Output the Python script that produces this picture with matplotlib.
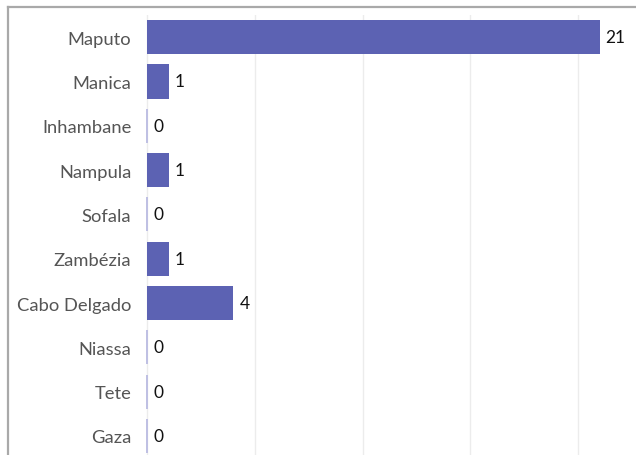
import matplotlib.pyplot as plt
from matplotlib.lines import Line2D

# -----------------------------
# Data
# -----------------------------
provinces = ["Maputo", "Manica", "Inhambane", "Nampula", "Sofala",
             "Zambézia", "Cabo Delgado", "Niassa", "Tete", "Gaza"]
counts = [21, 1, 0, 1, 0, 1, 4, 0, 0, 0]
grid_ticks = [0, 5, 10, 15, 20]

bar_color = "#5c62b3"
zero_color = "#bfc0e3"

W, H = 636, 456
fig = plt.figure(figsize=(W / 100, H / 100), dpi=100)
fig.patch.set_facecolor("white")

# axes box in pixels (left, top, right, bottom)
left, top, right, bottom = 146, 16, 636, 456
ax = fig.add_axes([left / W, 1 - bottom / H, (right - left) / W, (bottom - top) / H])

ypos = list(range(len(provinces)))
for y, v in zip(ypos, counts):
    if v > 0:
        ax.barh(y, v, height=0.77, color=bar_color, linewidth=0, zorder=3)
    else:
        # zero values still get a thin marker line
        ax.barh(y, 0.09, left=-0.06, height=0.77, color=zero_color,
                linewidth=0, zorder=3)
    ax.text(v + 0.27 if v > 0 else 0.27, y, str(v), va="center", ha="left",
            fontsize=12.5, color="#111111", family="Lato")

ax.set_xlim(-0.06, (right - left) / 21.6)
ax.set_ylim(len(provinces) - 0.57, -0.5)
ax.set_xticks(grid_ticks)
ax.xaxis.grid(True, color="#ececec", linewidth=1, zorder=0)
ax.tick_params(axis="x", length=0, labelbottom=False)
ax.tick_params(axis="y", length=0, pad=10.5)
ax.set_yticks(ypos)
ax.set_yticklabels(provinces, fontsize=13.2, color="#555555", family="Lato")
for s in ax.spines.values():
    s.set_visible(False)

# container border (top and left)
fig.add_artist(Line2D([8 / W, 1], [1 - 7.5 / H, 1 - 7.5 / H],
                      transform=fig.transFigure, color="#a9a9a9", linewidth=1.6))
fig.add_artist(Line2D([8 / W, 8 / W], [0, 1 - 7.5 / H],
                      transform=fig.transFigure, color="#a9a9a9", linewidth=1.6))

fig.savefig("out.png", dpi=100)
